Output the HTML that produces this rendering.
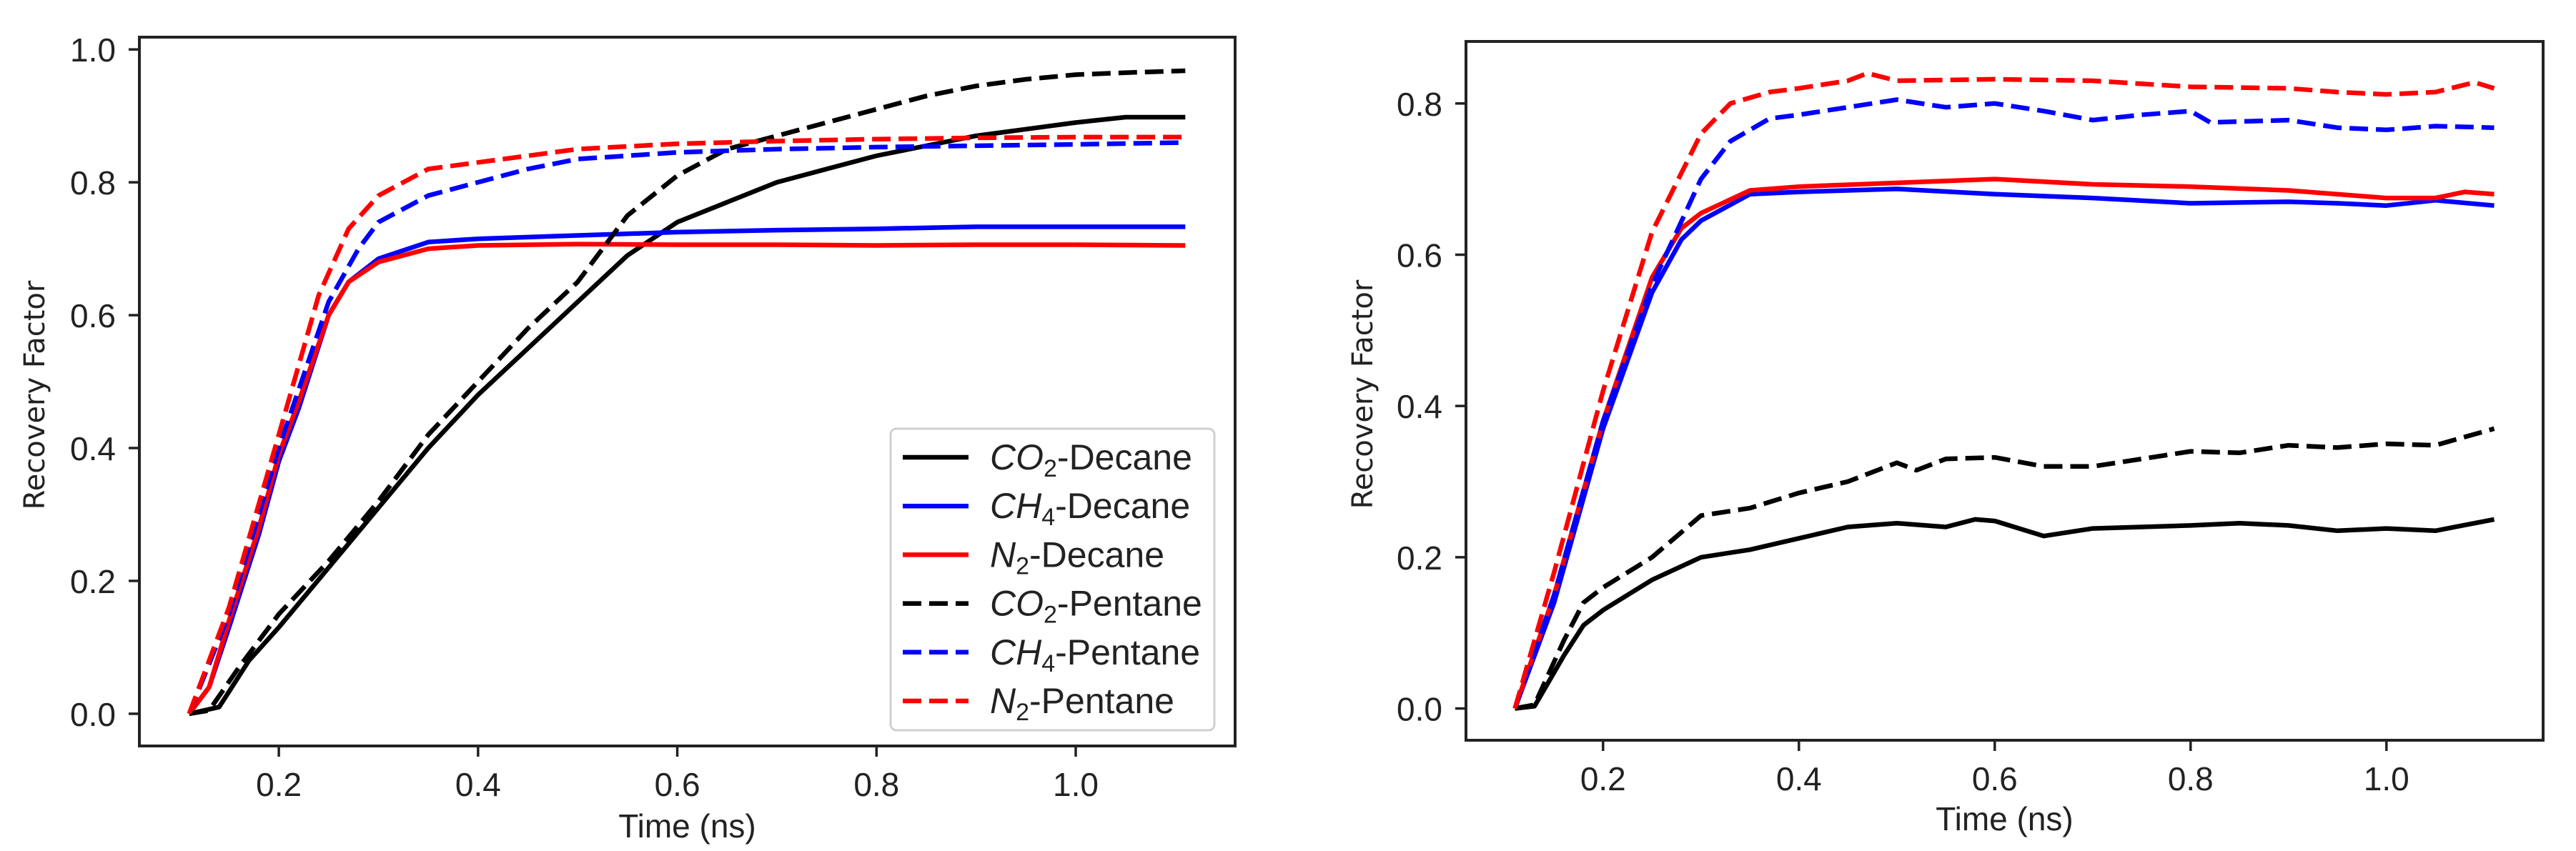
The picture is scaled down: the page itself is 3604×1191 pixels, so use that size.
<!DOCTYPE html>
<html><head><meta charset="utf-8"><style>
html,body{margin:0;padding:0;background:#fff;}
svg{display:block;}
.tk{font-family:"Liberation Sans Narrow","Liberation Sans",sans-serif;font-size:46px;fill:#222;}
.lab{font-family:"DejaVu Sans","Liberation Sans",sans-serif;font-size:40px;fill:#222;}
.lg{font-family:"Liberation Sans Narrow","Liberation Sans",sans-serif;font-size:50px;fill:#222;}
</style></head><body>
<svg id="fig" width="3604" height="1191" viewBox="0 0 3604 1191" xmlns="http://www.w3.org/2000/svg"></svg>
<script>
// ---- Data: left panel (Decane/Pentane recovery) ----
const leftCO2DecX=[0.11,0.14,0.17,0.2,0.25,0.3,0.35,0.4,0.45,0.5,0.55,0.6,0.65,0.7,0.75,0.8,0.85,0.9,0.95,1.0,1.05,1.11];
const leftCO2DecY=[0,0.01,0.08,0.13,0.22,0.31,0.40,0.48,0.55,0.62,0.69,0.74,0.77,0.80,0.82,0.84,0.855,0.87,0.88,0.89,0.898,0.898];
const leftCO2PenX=[0.11,0.13,0.16,0.2,0.25,0.3,0.35,0.4,0.45,0.5,0.55,0.6,0.65,0.7,0.75,0.8,0.85,0.9,0.95,1.0,1.05,1.11];
const leftCO2PenY=[0,0.005,0.07,0.15,0.23,0.32,0.42,0.5,0.58,0.65,0.75,0.81,0.85,0.87,0.89,0.91,0.93,0.945,0.955,0.962,0.965,0.968];
const leftCH4DecX=[0.11,0.13,0.15,0.18,0.2,0.22,0.25,0.27,0.3,0.35,0.4,0.5,0.6,0.7,0.8,0.9,1.0,1.11];
const leftCH4DecY=[0,0.04,0.13,0.27,0.38,0.46,0.60,0.65,0.685,0.71,0.715,0.72,0.725,0.728,0.73,0.733,0.733,0.733];
const leftN2DecX=[0.11,0.13,0.15,0.18,0.2,0.22,0.25,0.27,0.3,0.35,0.4,0.5,0.6,0.7,0.8,0.9,1.0,1.11];
const leftN2DecY=[0,0.04,0.14,0.28,0.39,0.47,0.60,0.65,0.68,0.70,0.705,0.707,0.706,0.706,0.705,0.706,0.706,0.705];
const leftCH4PenX=[0.11,0.15,0.2,0.25,0.28,0.3,0.35,0.4,0.45,0.5,0.6,0.7,0.8,0.9,1.0,1.11];
const leftCH4PenY=[0,0.15,0.40,0.62,0.70,0.74,0.78,0.80,0.82,0.835,0.845,0.85,0.853,0.855,0.857,0.86];
const leftN2PenX=[0.11,0.15,0.2,0.24,0.27,0.3,0.35,0.4,0.5,0.6,0.7,0.8,0.9,1.0,1.11];
const leftN2PenY=[0,0.16,0.42,0.63,0.73,0.78,0.82,0.83,0.85,0.858,0.862,0.865,0.867,0.868,0.868];
// ---- Data: right panel ----
const rightN2PenX=[0.11,0.15,0.2,0.25,0.3,0.33,0.37,0.4,0.45,0.47,0.5,0.6,0.7,0.8,0.9,0.95,1.0,1.05,1.09,1.11];
const rightN2PenY=[0,0.18,0.42,0.63,0.76,0.80,0.815,0.82,0.83,0.84,0.83,0.832,0.83,0.822,0.82,0.815,0.812,0.815,0.828,0.82];
const rightCH4PenX=[0.11,0.15,0.2,0.25,0.3,0.33,0.37,0.4,0.45,0.5,0.55,0.6,0.65,0.7,0.75,0.8,0.82,0.9,0.95,1.0,1.05,1.11];
const rightCH4PenY=[0,0.15,0.38,0.56,0.70,0.75,0.78,0.785,0.795,0.805,0.795,0.80,0.79,0.778,0.785,0.79,0.775,0.778,0.768,0.765,0.77,0.768];
const rightN2DecX=[0.11,0.15,0.2,0.25,0.28,0.3,0.35,0.4,0.5,0.6,0.7,0.8,0.9,1.0,1.05,1.08,1.11];
const rightN2DecY=[0,0.15,0.38,0.57,0.635,0.655,0.685,0.69,0.695,0.70,0.693,0.69,0.685,0.675,0.675,0.683,0.68];
const rightCH4DecX=[0.11,0.15,0.2,0.25,0.28,0.3,0.35,0.4,0.5,0.6,0.7,0.8,0.9,0.95,1.0,1.05,1.11];
const rightCH4DecY=[0,0.14,0.37,0.55,0.62,0.645,0.68,0.683,0.687,0.68,0.675,0.668,0.67,0.668,0.665,0.672,0.665];
const rightCO2PenX=[0.11,0.13,0.16,0.18,0.2,0.25,0.3,0.35,0.4,0.45,0.5,0.52,0.55,0.6,0.65,0.7,0.75,0.8,0.85,0.9,0.95,1.0,1.05,1.11];
const rightCO2PenY=[0,0.005,0.09,0.14,0.16,0.20,0.255,0.265,0.285,0.30,0.325,0.315,0.33,0.332,0.32,0.32,0.33,0.34,0.338,0.348,0.345,0.35,0.348,0.37];
const rightCO2DecX=[0.11,0.13,0.16,0.18,0.2,0.25,0.3,0.35,0.4,0.45,0.5,0.55,0.58,0.6,0.65,0.7,0.8,0.85,0.9,0.95,1.0,1.05,1.11];
const rightCO2DecY=[0,0.003,0.07,0.11,0.13,0.17,0.20,0.21,0.225,0.24,0.245,0.24,0.25,0.248,0.228,0.238,0.242,0.245,0.242,0.235,0.238,0.235,0.25];
const xTicks=[0.2,0.4,0.6,0.8,1.0];
const xTickLabels=["0.2","0.4","0.6","0.8","1.0"];
const leftYTicks=[0,0.2,0.4,0.6,0.8,1.0];
const leftYTickLabels=["0.0","0.2","0.4","0.6","0.8","1.0"];
const rightYTicks=[0,0.2,0.4,0.6,0.8];
const rightYTickLabels=["0.0","0.2","0.4","0.6","0.8"];

const NS="http://www.w3.org/2000/svg";
const svg=document.getElementById('fig');
function mk(tag,attrs,parent){const e=document.createElementNS(NS,tag);for(const k in attrs)e.setAttribute(k,attrs[k]);(parent||svg).appendChild(e);return e;}

function panel(o){
  const g=mk('g',{});
  
  
  const sx=v=>o.L+(v-o.x0)/(o.x1-o.x0)*(o.R-o.L);
  const sy=v=>o.B-(v-o.y0)/(o.y1-o.y0)*(o.B-o.T);
  o.series.forEach(s=>{
    const d=s.x.map((xv,i)=>(i?'L':'M')+sx(xv).toFixed(1)+' '+sy(s.y[i]).toFixed(1)).join(' ');
    const p=mk('path',{d:d,fill:'none',stroke:s.c,'stroke-width':6.5,'stroke-linejoin':'round','stroke-dasharray':s.dash?'26 11':'none'},g);
    
    
  });
  const fr=mk('rect',{x:o.L,y:o.T,width:o.R-o.L,height:o.B-o.T,fill:'none',stroke:'#222','stroke-width':4},g);
  
  
  xTicks.forEach((t,i)=>{
    const X=sx(t);
    mk('line',{x1:X,y1:o.B,x2:X,y2:o.B+15,stroke:'#222','stroke-width':3.5},g);
    const tx=mk('text',{x:X,y:o.B+70,'text-anchor':'middle',class:'tk'},g);
    tx.textContent=xTickLabels[i];
    
    
  });
  o.yt.forEach((t,i)=>{
    const Y=sy(t);
    mk('line',{x1:o.L-15,y1:Y,x2:o.L,y2:Y,stroke:'#222','stroke-width':3.5},g);
    const tx=mk('text',{x:o.L-33,y:Y+17,'text-anchor':'end',class:'tk'},g);
    tx.textContent=o.ytl[i];
    
    
  });
  const xl=mk('text',{x:(o.L+o.R)/2,y:o.xlY,'text-anchor':'middle',class:'tk'},g);
  xl.textContent='Time (ns)';
  
  
  const yl=mk('text',{x:0,y:0,'text-anchor':'middle',class:'lab',transform:`translate(${o.ylX},${(o.T+o.B)/2+5}) rotate(-90)`},g);
  yl.textContent='Recovery Factor';
  
  
}

const C={k:'#000',b:'#0000ff',r:'#ff0000'};
panel({name:'left-panel',L:195,R:1728,T:52,B:1044,x0:0.06,x1:1.16,y0:-0.0485,y1:1.0185,yt:leftYTicks,ytl:leftYTickLabels,xlY:1172,ylX:62,
 series:[
  {id:'left-co2-decane',x:leftCO2DecX,y:leftCO2DecY,c:C.k},
  {id:'left-ch4-decane',x:leftCH4DecX,y:leftCH4DecY,c:C.b},
  {id:'left-n2-decane',x:leftN2DecX,y:leftN2DecY,c:C.r},
  {id:'left-co2-pentane',x:leftCO2PenX,y:leftCO2PenY,c:C.k,dash:1},
  {id:'left-ch4-pentane',x:leftCH4PenX,y:leftCH4PenY,c:C.b,dash:1},
  {id:'left-n2-pentane',x:leftN2PenX,y:leftN2PenY,c:C.r,dash:1}]});
panel({name:'right-panel',L:2051,R:3558,T:58,B:1036,x0:0.06,x1:1.16,y0:-0.042,y1:0.882,yt:rightYTicks,ytl:rightYTickLabels,xlY:1162,ylX:1920,
 series:[
  {id:'right-co2-decane',x:rightCO2DecX,y:rightCO2DecY,c:C.k},
  {id:'right-co2-pentane',x:rightCO2PenX,y:rightCO2PenY,c:C.k,dash:1},
  {id:'right-ch4-decane',x:rightCH4DecX,y:rightCH4DecY,c:C.b},
  {id:'right-n2-decane',x:rightN2DecX,y:rightN2DecY,c:C.r},
  {id:'right-ch4-pentane',x:rightCH4PenX,y:rightCH4PenY,c:C.b,dash:1},
  {id:'right-n2-pentane',x:rightN2PenX,y:rightN2PenY,c:C.r,dash:1}]});

const leg=mk('g',{});


mk('rect',{x:1246,y:600,width:453,height:422,rx:8,fill:'#fff','fill-opacity':0.85,stroke:'#d0d0d0','stroke-width':3},leg);
const legItems=[["CO","2","-Decane",C.k,0],["CH","4","-Decane",C.b,0],["N","2","-Decane",C.r,0],["CO","2","-Pentane",C.k,1],["CH","4","-Pentane",C.b,1],["N","2","-Pentane",C.r,1]];
legItems.forEach((it,i)=>{
  const y=640+i*68.2;
  const ln=mk('line',{x1:1263,y1:y,x2:1355,y2:y,stroke:it[3],'stroke-width':6.5,'stroke-dasharray':it[4]?'26 11':'none'},leg);
  
  
  const t=mk('text',{x:1385,y:y+17,class:'lg'},leg);
  
  
  const a=mk('tspan',{'font-style':'italic'},t);a.textContent=it[0];
  const b=mk('tspan',{'font-size':'34px',dy:'10'},t);b.textContent=it[1];
  const c=mk('tspan',{dy:'-10'},t);c.textContent=it[2];
});
</script>
</body></html>
